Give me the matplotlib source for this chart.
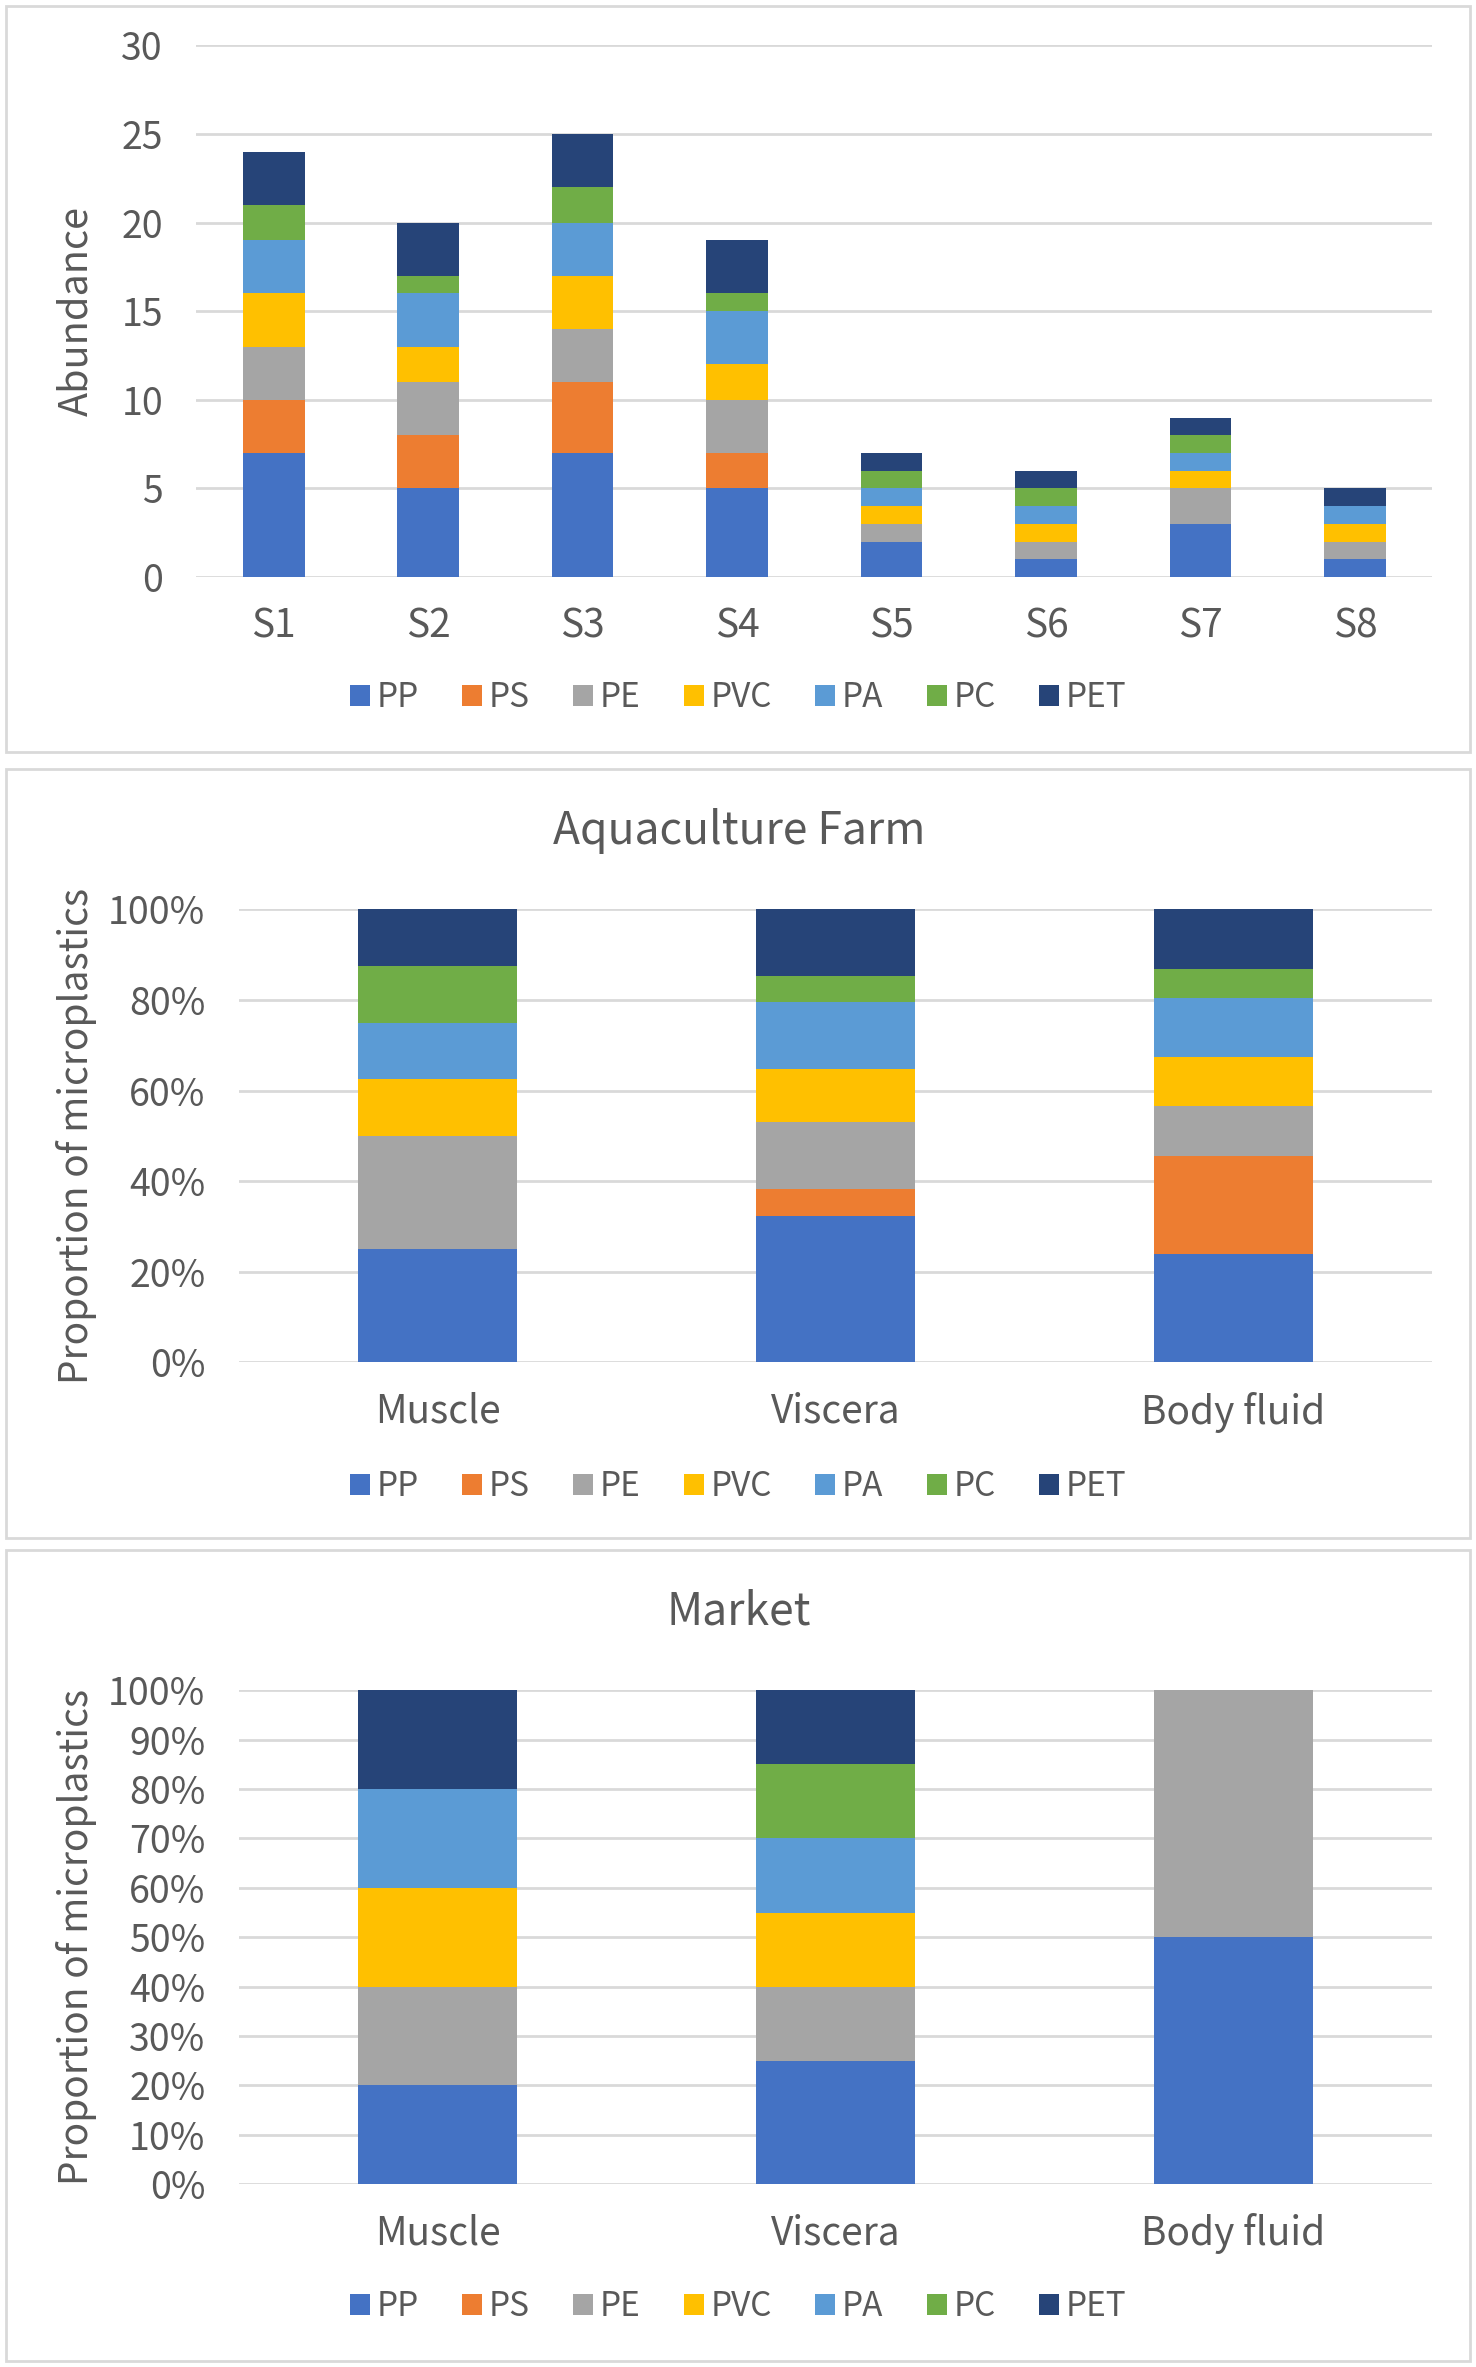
import matplotlib
matplotlib.use('Agg')
import matplotlib.pyplot as plt
import numpy as np
from matplotlib.patches import Rectangle
from matplotlib.ticker import FuncFormatter

plt.rcParams['font.family'] = ['Noto Sans CJK SC', 'DejaVu Sans']

# 数据
polymers = ['PP', 'PS', 'PE', 'PVC', 'PA', 'PC', 'PET']
colors = ['#4472C4', '#ED7D31', '#A5A5A5', '#FFC000', '#5B9BD5', '#70AD47', '#264478']

sites = ['S1', 'S2', 'S3', 'S4', 'S5', 'S6', 'S7', 'S8']
site_pp = [7, 5, 7, 5, 2, 1, 3, 1]
site_ps = [3, 3, 4, 2, 0, 0, 0, 0]
site_pe = [3, 3, 3, 3, 1, 1, 2, 1]
site_pvc = [3, 2, 3, 2, 1, 1, 1, 1]
site_pa = [3, 3, 3, 3, 1, 1, 1, 1]
site_pc = [2, 1, 2, 1, 1, 1, 1, 0]
site_pet = [3, 3, 3, 3, 1, 1, 1, 1]

tissues = ['Muscle', 'Viscera', 'Body fluid']
farm_pp = [25.0, 32.4, 23.9]
farm_ps = [0.0, 5.9, 21.7]
farm_pe = [25.0, 14.7, 10.9]
farm_pvc = [12.5, 11.8, 10.9]
farm_pa = [12.5, 14.7, 13.0]
farm_pc = [12.5, 5.9, 6.5]
farm_pet = [12.5, 14.7, 13.1]

market_pp = [20, 25, 50]
market_ps = [0, 0, 0]
market_pe = [20, 15, 50]
market_pvc = [20, 15, 0]
market_pa = [20, 15, 0]
market_pc = [0, 15, 0]
market_pet = [20, 15, 0]

txt = '#595959'
grid_c = '#D9D9D9'

fig = plt.figure(figsize=(14.76, 23.67), dpi=100)
H = 1567.0
W = 977.0


def fy(y):
    return 1 - y / H


# 面板边框
for top, bot in [(4, 498), (509, 1018), (1026, 1563)]:
    fig.patches.append(Rectangle((4 / W, fy(bot)), 969 / W, (bot - top) / H,
                                 transform=fig.transFigure, fill=False,
                                 edgecolor=grid_c, linewidth=2))


def stacked(ax, cats, series, width=0.4):
    x = np.arange(len(cats))
    bottom = np.zeros(len(cats))
    for name, vals, c in zip(polymers, series, colors):
        vals = np.array(vals, dtype=float)
        ax.bar(x, vals, width, bottom=bottom, color=c, label=name, zorder=3,
               linewidth=0)
        bottom += vals
    ax.set_xticks(x)
    ax.set_xticklabels(cats)
    ax.set_xlim(-0.5, len(cats) - 0.5)
    for s in ax.spines.values():
        s.set_visible(False)
    ax.yaxis.grid(True, color=grid_c, linewidth=2, zorder=0)
    ax.tick_params(axis='both', length=0, colors=txt)
    ax.tick_params(axis='x', pad=21, labelsize=28)
    ax.tick_params(axis='y', pad=24, labelsize=27)


def legend(ax, y):
    fig.legend(*ax.get_legend_handles_labels(), loc='center',
               bbox_to_anchor=(0.5, y), ncol=7, frameon=False,
               fontsize=24, handlelength=0.6, handleheight=0.6,
               handletextpad=0.2, columnspacing=1.3, labelcolor=txt)


# 第一幅：各站点丰度
ax1 = fig.add_axes([130 / W, fy(382), 818 / W, (382 - 30) / H])
stacked(ax1, sites, [site_pp, site_ps, site_pe, site_pvc, site_pa, site_pc, site_pet])
ax1.set_ylim(0, 30)
ax1.set_yticks(range(0, 31, 5))
ax1.set_ylabel('Abundance', fontsize=28.5, color=txt)
legend(ax1, fy(462))

# 第二幅：养殖场
ax2 = fig.add_axes([158 / W, fy(902), 790 / W, (902 - 602) / H])
stacked(ax2, tissues, [farm_pp, farm_ps, farm_pe, farm_pvc, farm_pa, farm_pc, farm_pet])
ax2.set_ylim(0, 100)
ax2.set_yticks(range(0, 101, 20))
ax2.yaxis.set_major_formatter(FuncFormatter(lambda v, p: '%d%%' % v))
ax2.set_ylabel('Proportion of microplastics', fontsize=28, color=txt)
fig.text(489 / W, fy(550), 'Aquaculture Farm', ha='center', va='center',
         fontsize=32, color=txt)
legend(ax2, fy(984))

# 第三幅：市场
ax3 = fig.add_axes([158 / W, fy(1446), 790 / W, (1446 - 1119) / H])
stacked(ax3, tissues, [market_pp, market_ps, market_pe, market_pvc, market_pa, market_pc, market_pet])
ax3.set_ylim(0, 100)
ax3.set_yticks(range(0, 101, 10))
ax3.yaxis.set_major_formatter(FuncFormatter(lambda v, p: '%d%%' % v))
ax3.set_ylabel('Proportion of microplastics', fontsize=28, color=txt)
fig.text(489 / W, fy(1067), 'Market', ha='center', va='center',
         fontsize=32, color=txt)
legend(ax3, fy(1527))

ax1.yaxis.set_label_coords((64 - 130) / 818, 0.5)
ax2.yaxis.set_label_coords((64 - 158) / 790, 0.5)
ax3.yaxis.set_label_coords((64 - 158) / 790, 0.5)

fig.savefig('out.png', dpi=100, facecolor='white')
